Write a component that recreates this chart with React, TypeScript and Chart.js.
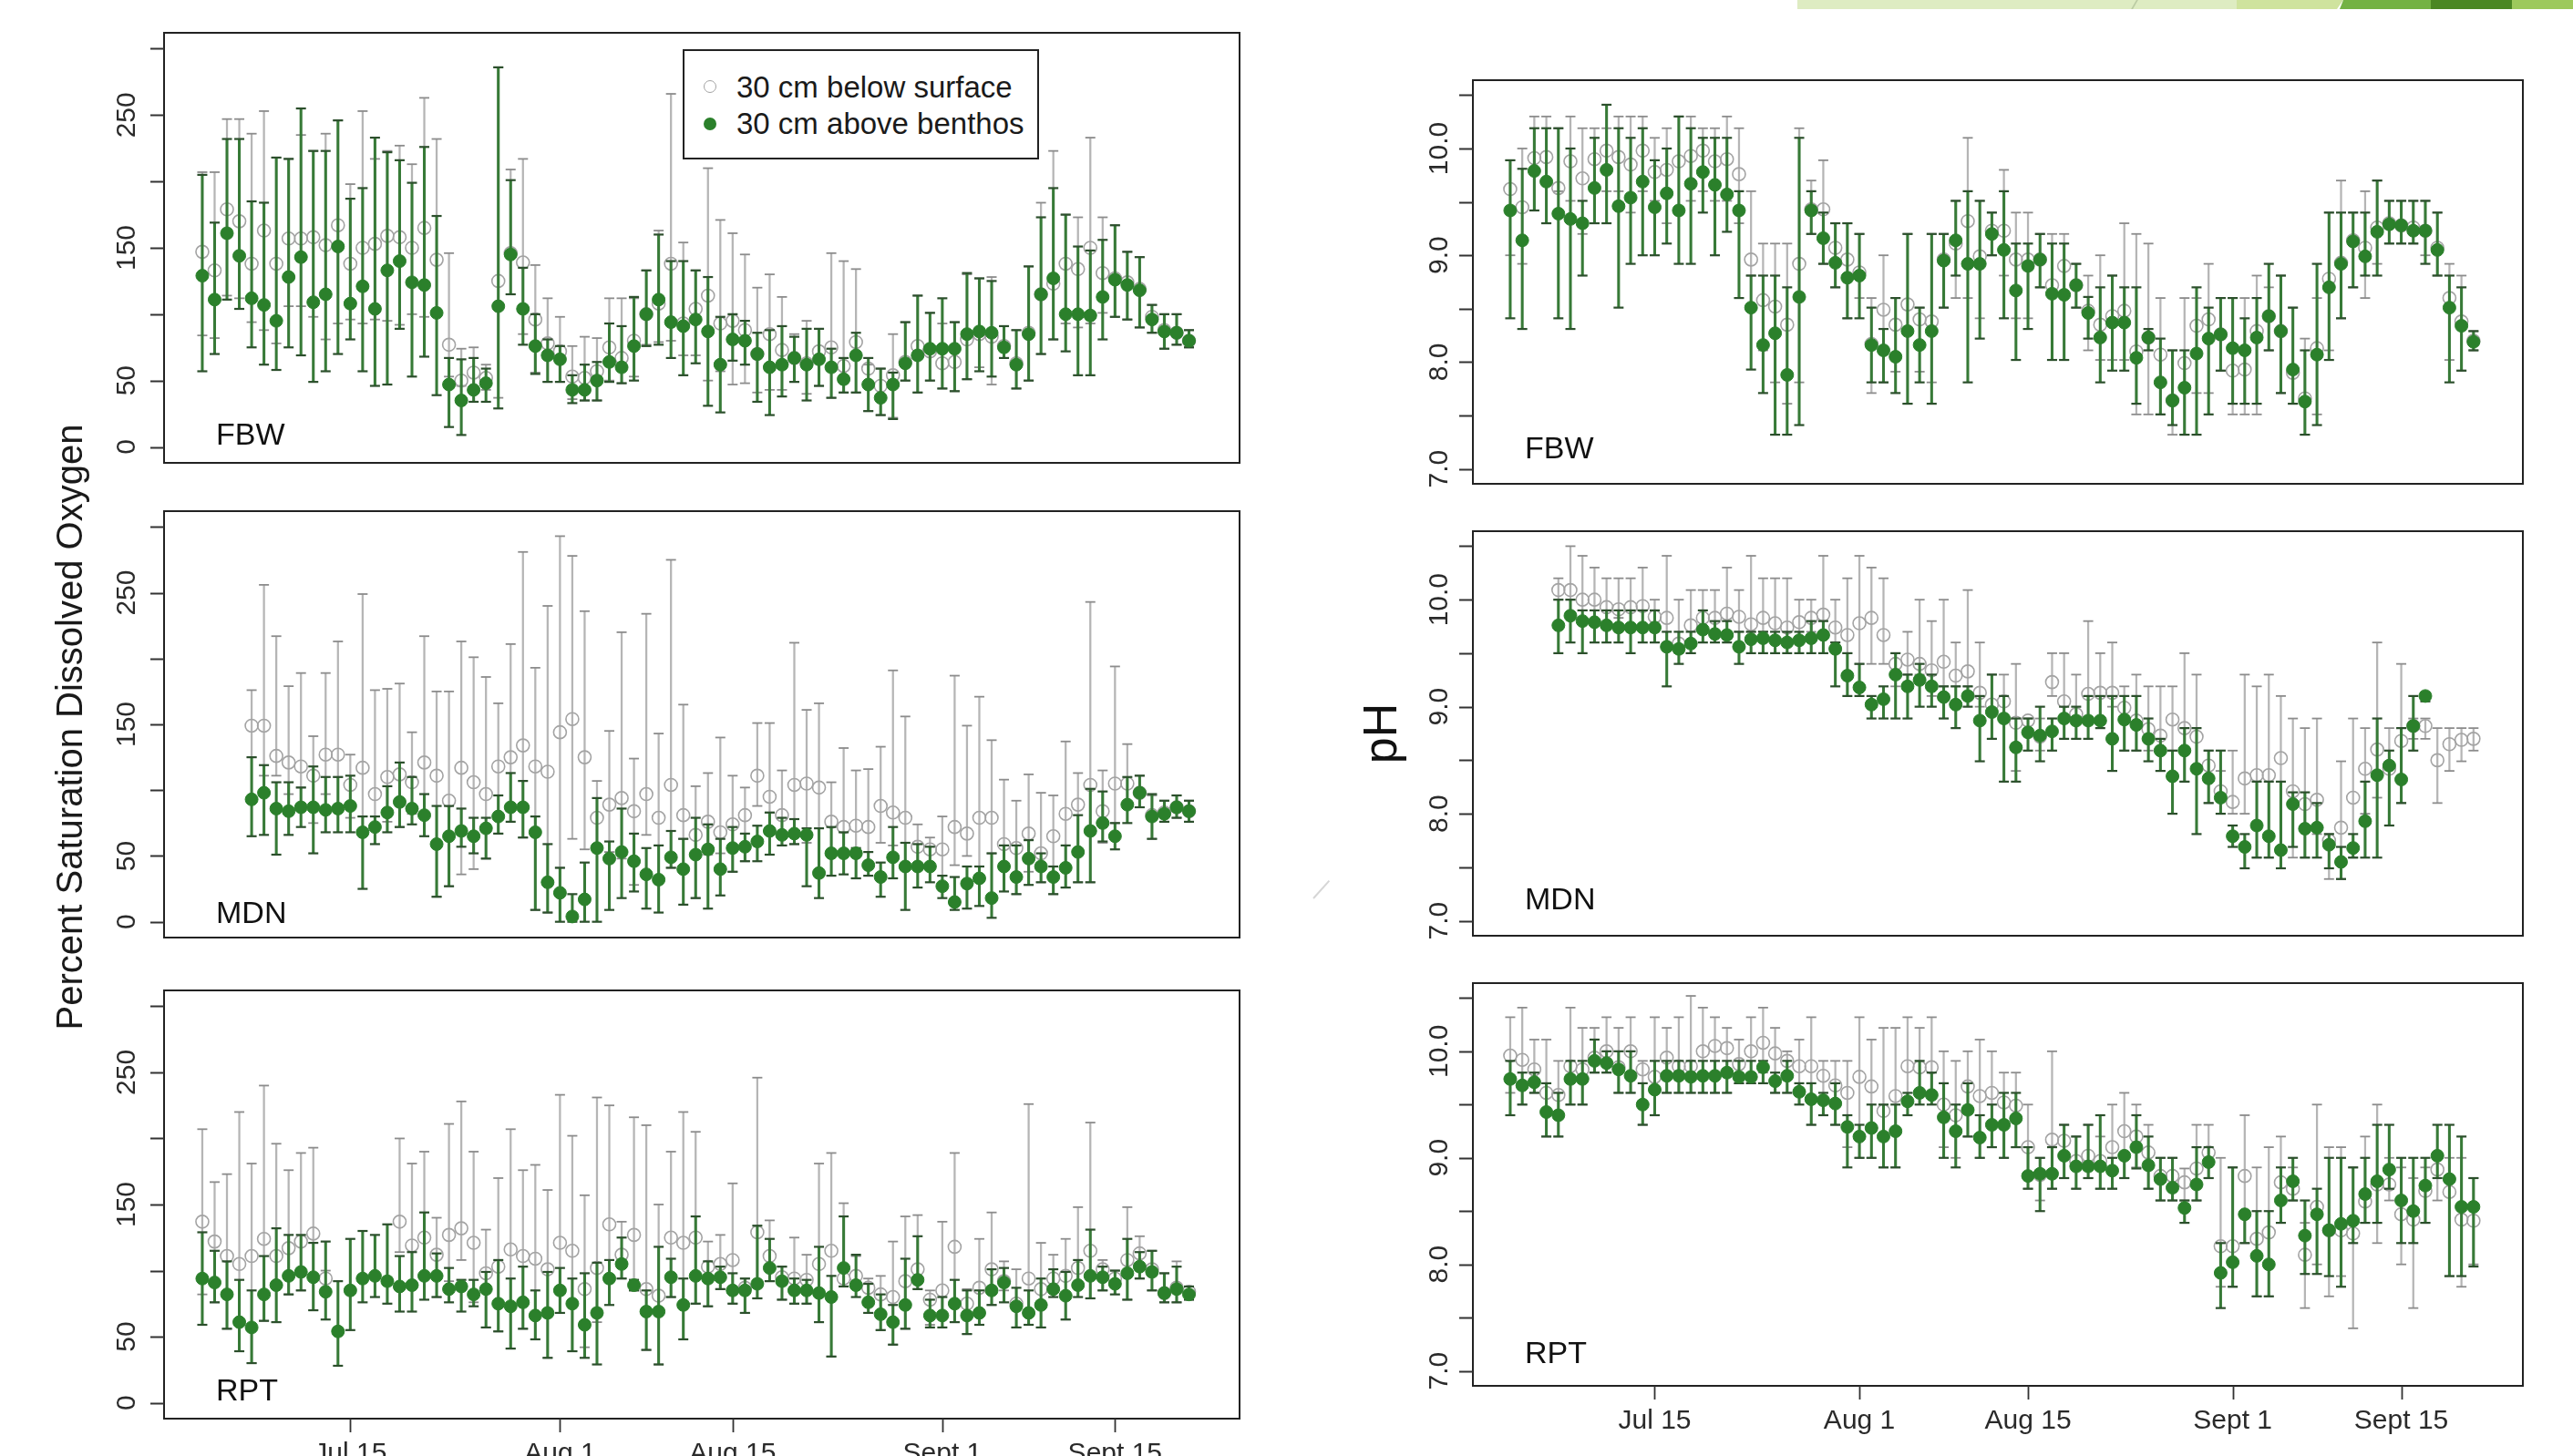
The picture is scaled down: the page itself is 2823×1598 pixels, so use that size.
import React, { useEffect, useRef } from 'react';
import { Chart, registerables } from 'chart.js';

Chart.register(...registerables);

// ---------- categories (days since Jul 1; Jul 15 = 14) ----------
const DAYS_JUL3 = [2,3,4,5,6,7,8,9,10,11,12,13,14,15,16,17,18,19,20,21,22,23,24,25,26,27,28,29,30,31,32,33,34,35,36,37,38,39,40,41,42,43,44,45,46,47,48,49,50,51,52,53,54,55,56,57,58,59,60,61,62,63,64,65,66,67,68,69,70,71,72,73,74,75,76,77,78,79,80,81,82];
const DAYS_JUL7 = [6,7,8,9,10,11,12,13,14,15,16,17,18,19,20,21,22,23,24,25,26,27,28,29,30,31,32,33,34,35,36,37,38,39,40,41,42,43,44,45,46,47,48,49,50,51,52,53,54,55,56,57,58,59,60,61,62,63,64,65,66,67,68,69,70,71,72,73,74,75,76,77,78,79,80,81,82];
const X_TICK_DAYS = [14, 31, 45, 62, 76];
const X_TICK_LABELS = ['Jul 15', 'Aug 1', 'Aug 15', 'Sept 1', 'Sept 15'];
const DO_TICKS = [0, 50, 100, 150, 200, 250, 300];
const DO_LABELS = [0, 50, 150, 250];
const PH_TICKS = [7, 7.5, 8, 8.5, 9, 9.5, 10, 10.5];
const PH_LABELS = [7, 8, 9, 10];

// ---------- FBW dissolved oxygen ----------
const FBW_DO_SURF = [147,133,179,170,138,163,138,157,157,158, 152,167,138,150,153,159,158,150,165,141, 77,50,56,52,125,146,139,96,78,72, 53,52,57,75,67,80,100,108,138,93, 104,114,93,95,88,70,85,73,67,63, 72,75,61,79,59,46,54,64,76,72, 63,64,81,85,83,76,63,86,115,123, 138,134,150,131,127,124,119,98,88,86, 80];
const FBW_DO_SURF_LO = [84,82,114,112,94,88,78,106,106,98, 81,93,96,93,96,95,92,100,98,100, 53,46,41,43,37,115,85,56,49,49, 36,35,35,50,48,53,77,79,80,69, 69,50,57,47,48,41,43,43,49,40, 46,37,41,41,27,24,22,50,41,50, 44,42,51,60,47,67,44,50,70,81, 93,90,93,101,98,96,90,86,74,77, 75];
const FBW_DO_SURF_HI = [207,207,247,247,236,253,218,217,235,223, 236,246,198,253,217,223,227,213,263,232, 146,74,75,62,286,209,217,137,112,98, 76,83,82,112,112,112,133,163,266,154, 133,210,171,161,145,120,130,113,85,95, 89,146,140,134,62,59,85,94,114,101, 93,94,130,127,128,91,88,136,184,223, 175,173,233,173,167,147,143,107,100,100, 88];
const FBW_DO_BENT = [129,111,161,144,112,107,95,128,143,109, 115,151,108,121,104,133,140,124,122,101, 47,35,43,48,106,145,104,76,69,66, 43,43,50,64,60,76,100,111,94,91, 96,87,62,81,80,70,60,62,67,62, 66,60,51,69,47,37,47,63,69,74, 74,74,85,87,86,75,62,85,115,127, 100,100,99,113,126,122,118,96,87,86, 80];
const FBW_DO_BENT_LO = [57,70,111,104,75,62,58,75,69,49, 57,70,81,57,46,47,89,53,68,39, 15,9,34,34,29,115,77,55,49,49, 33,35,35,49,48,50,76,77,67,54, 63,31,26,65,62,34,24,38,49,35, 46,37,41,41,27,24,21,50,41,50, 44,42,51,57,53,67,44,50,70,81, 72,54,54,81,98,96,90,86,74,77, 75];
const FBW_DO_BENT_HI = [205,169,232,232,185,184,218,217,255,223, 223,246,187,195,233,222,216,199,226,174, 67,66,67,59,286,201,135,100,81,76, 54,62,64,93,91,113,133,160,140,140, 133,128,98,100,95,86,88,91,83,89, 89,74,67,86,67,59,56,94,114,101, 112,94,131,127,125,91,88,136,173,195, 175,151,148,156,167,147,143,107,100,100, 88];

// ---------- MDN dissolved oxygen ----------
const MDN_DO_SURF = [149,149,126,121,118,111,127,127,104,117, 97,110,112,106,121,111,92,117,106,97, 118,125,134,118,114,144,154,125,79,89, 94,84,97,79,104,81,66,76,68,74, 81,111,95,81,104,105,102,76,72,73, 72,88,83,79,57,55,55,72,67,79, 79,59,56,67,52,65,82,89,104,84, 105,105,98,81,83,87,84];
const MDN_DO_SURF_LO = [125,111,111,97,102,75,97,110,79,80, 80,76,72,82,81,19,27,36,40,48, 67,84,64,9,7,41,63,55,55,53, 48,28,66,58,41,63,18,51,52,38, 46,88,83,58,59,60,37,52,52,33, 43,60,58,60,42,42,35,43,50,42, 52,40,21,38,30,21,26,30,30,60, 75,89,87,63,76,79,76];
const MDN_DO_SURF_HI = [176,256,217,179,189,141,189,213,127,249, 176,177,181,144,217,175,175,213,201,186, 166,211,281,193,240,293,278,236,107,145, 220,124,234,143,275,165,103,113,140,111, 102,151,151,115,212,161,166,106,132,115, 116,133,191,156,74,64,80,187,149,171, 138,108,92,112,98,96,137,113,243,115, 194,135,111,96,92,96,92];
const MDN_DO_BENT = [93,98,86,84,87,87,85,86,88,68, 72,83,91,86,81,59,65,69,65,71, 80,87,87,68,30,22,4,17,56,48, 53,46,36,32,49,40,51,55,40,56, 57,61,69,66,67,66,37,52,52,52, 43,34,49,42,42,42,27,15,29,33, 18,42,34,48,42,34,41,53,69,75, 65,89,98,80,82,87,84];
const MDN_DO_BENT_LO = [65,66,51,66,72,52,68,68,68,25, 59,68,72,74,65,19,27,57,52,48, 67,76,64,9,7,0,0,0,0,9, 18,23,10,7,41,13,18,10,20,38, 46,46,51,58,59,27,18,35,36,33, 35,19,33,9,26,30,18,9,10,12, 3,23,21,28,30,21,26,30,30,61, 55,75,87,63,76,79,76];
const MDN_DO_BENT_HI = [125,119,106,106,102,118,110,110,111,80, 80,103,121,110,97,88,88,86,79,79, 96,113,107,80,59,41,21,45,94,61, 86,67,56,58,69,63,79,74,63,72, 67,73,83,79,78,71,71,72,68,56, 53,45,72,60,59,57,35,34,42,42, 52,58,58,62,52,42,58,81,101,99, 75,110,111,97,92,96,92];

// ---------- RPT dissolved oxygen ----------
const RPT_DO_SURF = [137,122,111,105,111,124,111,117,122,128, 94,null,null,null,null,null,137,119,125,112, 127,132,121,98,103,116,111,109,101,121, 115,86,102,135,112,127,86,81,125,121, 125,103,105,108,87,129,111,95,94,93, 105,115,94,96,87,82,80,92,101,78, 85,118,75,87,101,92,75,94,86,94, 96,102,115,101,94,108,113,101,83,87, 84];
const RPT_DO_SURF_LO = [82,76,56,39,30,62,61,82,85,70, 85,null,null,null,null,null,114,89,96,80, 92,108,76,57,54,41,56,48,34,68, 39,42,61,94,94,85,40,29,80,74, 75,73,86,75,68,79,92,78,75,75, 61,35,88,89,68,55,44,56,86,59, 64,61,52,59,74,85,57,59,57,86, 63,89,79,85,90,78,94,85,76,76, 78];
const RPT_DO_SURF_HI = [207,167,173,220,181,240,196,176,189,193, 100,null,null,null,null,null,200,181,190,140, 211,228,190,131,170,207,176,180,161,233, 202,157,231,225,137,216,210,150,190,220, 205,122,127,166,94,246,138,103,125,112, 181,189,151,111,94,96,122,141,142,85, 137,189,86,124,144,107,101,226,121,112, 124,148,212,108,100,148,126,115,98,107, 88];
const RPT_DO_BENT = [94,91,82,61,57,82,89,96,99,95, 84,54,85,94,96,92,88,89,96,96, 86,88,82,86,75,73,76,66,68,85, 75,59,68,94,105,89,69,69,95,74, 96,94,95,85,85,90,102,92,85,85, 83,80,102,89,76,67,61,74,93,66, 66,75,66,68,85,91,73,68,74,86, 81,89,96,95,90,98,103,99,83,86, 82];
const RPT_DO_BENT_LO = [59,76,56,39,30,62,61,82,85,70, 63,28,55,76,80,75,69,69,78,80, 76,69,73,57,54,41,56,48,34,68, 39,34,29,74,94,85,40,29,80,48, 75,73,86,75,68,79,92,78,75,75, 61,35,88,80,68,55,44,56,86,57, 57,61,52,59,74,76,57,59,57,80, 63,80,79,85,82,78,94,85,76,76, 78];
const RPT_DO_BENT_HI = [129,115,107,93,85,111,132,127,127,121, 122,92,124,130,127,135,111,114,144,113, 102,93,93,99,108,94,103,85,99,102, 94,98,106,108,125,93,85,118,109,94, 141,107,103,98,94,134,124,103,94,93, 118,96,141,112,90,82,74,109,126,78, 80,93,85,85,101,102,87,85,94,101, 99,108,131,103,100,124,114,115,98,103, 88];

// ---------- FBW pH ----------
const FBW_PH_SURF = [9.62,9.45,9.91,9.92,9.63,9.88,9.72,9.90,9.98,9.92, 9.85,9.98,9.78,9.80,9.88,9.93,9.98,9.88,9.90,9.76, 8.96,8.58,8.52,8.35,8.92,9.43,9.43,9.07,8.96,8.84, 8.17,8.49,8.35,8.54,8.40,8.38,8.96,9.11,9.32,8.99, 9.23,9.23,8.96,8.96,8.96,8.72,8.90,8.72,8.48,8.35, 8.43,8.48,8.10,8.23,8.07,7.64,7.99,8.34,8.40,8.26, 7.92,7.93,8.29,8.43,8.29,7.90,7.66,8.13,8.78,8.93, 9.14,9.07,9.26,9.30,9.28,9.26,9.23,9.07,8.60,8.38, 8.20];
const FBW_PH_SURF_LO = [9.00,8.92,9.42,9.30,9.60,9.51,9.20,9.30,9.60,9.60, 9.40,9.60,9.51,9.30,9.42,9.51,9.60,9.51,9.51,9.30, 8.81,8.11,7.81,7.61,7.81,9.20,8.92,8.70,8.41,8.60, 7.71,7.81,7.91,7.61,7.91,7.81,8.51,8.60,8.60,8.41, 9.00,8.81,8.41,8.41,8.70,8.02,8.02,8.51,8.11,8.02, 8.02,8.02,7.51,7.51,7.51,7.32,7.32,7.71,7.71,7.92, 7.51,7.51,7.51,8.11,7.71,7.61,7.32,7.51,8.11,8.41, 8.70,8.60,8.92,9.11,9.11,9.11,9.00,8.81,8.02,7.92, 8.11];
const FBW_PH_SURF_HI = [9.89,10.00,10.30,10.30,10.19,10.30,10.19,10.19,10.19,10.30, 10.30,10.30,10.10,10.19,10.30,10.30,10.19,10.19,10.30,10.19, 9.60,9.11,9.11,9.11,10.19,9.70,9.89,9.30,9.30,9.20, 8.60,9.00,8.60,9.20,8.51,9.20,9.20,9.51,10.10,9.51, 9.40,9.80,9.40,9.40,9.20,9.20,9.20,8.92,8.81,9.00, 8.81,9.30,9.20,9.11,8.60,8.11,8.60,8.60,8.92,8.60, 8.60,8.60,8.81,8.70,8.81,8.51,8.22,8.60,9.40,9.70, 9.40,9.60,9.70,9.51,9.51,9.51,9.51,9.40,8.92,8.81, 8.29];
const FBW_PH_BENT = [9.42,9.14,9.79,9.69,9.39,9.34,9.30,9.63,9.80,9.46, 9.54,9.69,9.45,9.58,9.42,9.67,9.78,9.66,9.57,9.42, 8.51,8.16,8.27,7.88,8.61,9.42,9.16,8.93,8.79,8.81, 8.16,8.11,8.05,8.29,8.16,8.29,8.95,9.14,8.92,8.92, 9.20,9.05,8.67,8.90,8.96,8.64,8.63,8.72,8.46,8.23, 8.37,8.37,8.04,8.23,7.81,7.64,7.76,8.08,8.22,8.26, 8.13,8.11,8.23,8.43,8.29,7.93,7.63,8.07,8.70,8.92, 9.13,8.99,9.22,9.29,9.28,9.23,9.23,9.05,8.51,8.34, 8.19];
const FBW_PH_BENT_LO = [8.41,8.31,9.42,9.30,8.41,8.31,8.81,9.30,9.30,8.51, 8.92,9.00,9.00,9.11,8.92,8.92,9.40,9.00,9.22,8.60, 7.93,7.71,7.32,7.32,7.41,9.20,8.92,8.70,8.41,8.41, 7.81,7.81,7.71,7.61,7.81,7.61,8.51,8.81,7.81,8.22, 9.00,8.41,8.02,8.31,8.70,8.02,8.02,8.51,8.22,7.81, 7.92,7.92,7.61,8.11,7.51,7.41,7.32,7.32,7.51,7.92, 7.61,7.61,7.61,8.11,7.71,7.61,7.32,7.41,8.02,8.41, 8.70,8.81,8.81,9.11,9.11,9.11,8.92,8.81,7.81,7.92, 8.11];
const FBW_PH_BENT_HI = [9.89,9.81,10.19,10.19,10.19,10.00,9.51,10.10,10.41,10.19, 10.10,10.19,9.89,10.00,10.30,10.19,10.10,10.10,10.10,9.60, 8.81,8.81,8.81,8.70,10.10,9.60,9.40,9.30,9.30,9.20, 8.51,8.31,8.60,9.20,8.51,9.20,9.20,9.51,9.60,9.51, 9.40,9.60,9.11,9.11,9.20,9.11,9.11,8.92,8.61,8.70, 8.81,8.70,8.70,8.31,8.22,8.11,8.11,8.70,8.51,8.60, 8.60,8.41,8.60,8.92,8.81,8.51,8.11,8.92,9.40,9.40, 9.40,9.40,9.70,9.51,9.51,9.51,9.51,9.40,8.81,8.70, 8.29];

// ---------- MDN pH ----------
const MDN_PH_SURF = [10.09,10.09,10.00,10.00,9.93,9.91,9.93,9.94,9.84,9.83, 9.59,9.76,9.83,9.83,9.87,9.84,9.77,9.83,9.78,9.74, 9.79,9.83,9.86,9.74,9.67,9.78,9.83,9.67,9.40,9.44, 9.40,9.34,9.42,9.29,9.33,9.13,9.02,9.05,8.85,8.87, 8.72,9.23,9.05,8.93,9.12,9.13,9.13,8.99,8.87,8.79, 8.73,8.88,8.80,8.72,8.45,8.21,8.11,8.33,8.36,8.36, 8.52,8.21,8.09,8.13,7.75,7.87,8.15,8.42,8.60,8.42, 8.68,8.82,8.82,8.50,8.65,8.69,8.70];
const MDN_PH_SURF_LO = [10.00,10.00,9.90,9.90,9.90,9.83,9.90,9.90,9.70,9.60, 9.50,9.50,9.70,9.70,9.70,9.70,9.70,9.70,9.60,9.60, 9.60,9.70,9.70,9.60,9.50,9.40,9.40,9.40,9.19,9.30, 9.30,9.10,9.19,9.19,9.19,9.00,8.70,8.89,8.40,8.76, 8.59,9.10,8.89,8.70,8.89,8.89,9.00,8.59,8.59,8.59, 8.40,8.59,8.30,8.40,8.10,8.00,8.00,8.00,7.59,7.59, 7.69,7.59,7.59,7.81,7.39,7.39,7.59,8.00,8.15,7.89, 8.10,8.70,8.70,8.10,8.40,8.49,8.59];
const MDN_PH_SURF_HI = [10.20,10.50,10.41,10.30,10.20,10.20,10.20,10.30,10.00,10.41, 10.00,10.09,10.09,10.09,10.30,10.09,10.41,10.20,10.20,10.20, 10.00,10.00,10.41,10.00,10.20,10.41,10.30,10.20,9.50,9.70, 10.00,9.80,10.00,9.60,10.09,9.60,9.30,9.30,9.40,8.89, 8.89,9.50,9.50,9.30,9.80,9.50,9.60,9.19,9.30,9.19, 9.19,9.19,9.50,9.30,8.59,8.40,8.59,9.30,9.19,9.30, 9.10,8.89,8.80,8.89,7.81,8.49,8.89,8.80,9.60,8.80, 9.40,8.89,8.89,8.80,8.80,8.80,8.80];
const MDN_PH_BENT = [9.76,9.85,9.80,9.79,9.76,9.74,9.74,9.74,9.74,9.56, 9.54,9.59,9.72,9.68,9.67,9.56,9.63,9.64,9.62,9.60, 9.62,9.64,9.67,9.54,9.29,9.18,9.02,9.07,9.30,9.19, 9.25,9.19,9.09,9.02,9.10,8.87,8.95,8.89,8.62,8.76, 8.73,8.77,8.89,8.87,8.87,8.87,8.70,8.88,8.83,8.70, 8.59,8.35,8.59,8.42,8.33,8.15,7.79,7.69,7.89,7.79, 7.66,8.09,7.86,7.87,7.71,7.55,7.68,7.93,8.36,8.45, 8.32,8.82,9.10,null,null,null,null];
const MDN_PH_BENT_LO = [9.50,9.60,9.50,9.60,9.60,9.60,9.50,9.60,9.60,9.19, 9.40,9.50,9.60,9.60,9.60,9.40,9.50,9.50,9.50,9.50, 9.50,9.50,9.50,9.19,9.10,9.10,8.89,8.89,8.89,8.89, 9.00,9.00,8.89,8.80,9.00,8.49,8.70,8.30,8.30,8.59, 8.49,8.59,8.70,8.70,8.70,8.80,8.40,8.59,8.59,8.49, 8.40,8.00,8.30,7.81,8.10,8.00,7.69,7.49,7.59,7.59, 7.49,7.69,7.59,7.59,7.49,7.39,7.59,7.59,7.59,7.89, 8.10,8.59,9.05,null,null,null,null];
const MDN_PH_BENT_HI = [10.00,10.00,9.90,9.90,9.90,9.90,9.90,9.90,9.90,9.70, 9.70,9.70,9.90,9.80,9.80,9.70,9.70,9.70,9.70,9.70, 9.70,9.80,9.80,9.60,9.50,9.40,9.10,9.19,9.50,9.30, 9.40,9.30,9.19,9.19,9.19,9.10,9.30,9.10,8.89,8.89, 9.00,8.89,9.00,9.00,9.10,9.10,9.10,9.10,9.10,8.89, 8.70,8.59,8.80,8.80,8.59,8.59,7.89,7.81,8.30,8.30, 8.30,8.20,8.20,8.10,7.81,7.69,7.81,8.30,8.89,8.59, 8.80,9.10,9.13,null,null,null,null];

// ---------- RPT pH ----------
const RPT_PH_SURF = [9.96,9.92,9.83,9.61,9.59,9.86,9.83,9.94,10.00,9.85, 10.00,9.83,9.76,9.94,9.86,9.86,10.00,10.05,10.03,9.88, 10.00,10.08,9.98,9.91,9.86,9.86,9.77,9.68,9.61,9.76, 9.67,9.44,9.58,9.86,9.85,9.85,9.50,9.40,9.67,9.58, 9.61,9.52,9.49,9.10,8.84,9.17,9.16,8.97,9.02,8.97, 9.10,9.25,9.20,9.05,8.83,8.83,8.77,8.90,9.05,8.17, 8.17,8.83,8.24,8.30,8.77,8.71,8.09,8.54,8.32,8.32, 8.29,8.59,8.75,8.75,8.47,8.42,8.69,8.89,8.68,8.42, 8.41];
const RPT_PH_SURF_LO = [9.61,9.50,9.61,9.20,9.20,9.50,9.50,9.80,9.80,9.61, 9.61,9.31,9.40,9.61,9.61,9.61,9.61,9.61,9.61,9.70, 9.70,9.80,9.61,9.61,9.61,9.31,9.40,9.31,9.10,9.00, 9.00,8.91,8.91,9.50,9.61,9.61,9.10,9.00,9.20,9.00, 9.10,9.00,9.10,8.71,8.60,8.71,8.81,8.71,8.81,8.71, 8.71,8.81,8.91,8.71,8.60,8.60,8.60,8.60,8.81,7.79, 7.79,8.20,7.70,7.70,8.39,8.60,7.59,8.00,7.70,7.89, 7.40,8.39,8.20,8.60,8.00,7.59,8.39,8.60,7.89,7.79, 8.00];
const RPT_PH_SURF_HI = [10.32,10.41,10.11,10.11,9.91,10.41,10.22,10.22,10.32,10.22, 10.32,9.91,10.32,10.22,10.32,10.52,10.41,10.32,10.22,10.11, 10.32,10.41,10.22,10.00,10.11,10.32,9.91,9.91,9.91,10.32, 10.11,10.22,10.22,10.32,10.22,10.32,10.00,9.91,10.00,10.11, 10.00,9.80,9.80,9.50,9.00,10.00,9.31,9.20,9.31,9.20, 9.50,9.61,9.50,9.31,9.00,9.00,8.90,9.31,9.31,9.00, 8.91,9.40,8.91,9.10,9.20,8.91,8.39,9.50,9.10,9.10, 8.91,9.20,9.50,9.00,8.91,8.81,8.91,9.00,9.00,9.00, 8.81];
const RPT_PH_BENT = [9.74,9.68,9.71,9.43,9.40,9.74,9.74,9.91,9.89,9.83, 9.77,9.50,9.64,9.77,9.77,9.76,9.77,9.77,9.80,9.76, 9.76,9.85,9.72,9.77,9.62,9.55,9.54,9.51,9.29,9.20, 9.28,9.20,9.25,9.53,9.61,9.59,9.38,9.25,9.45,9.19, 9.31,9.31,9.37,8.83,8.85,8.85,9.02,8.92,8.92,8.92, 8.88,9.02,9.10,8.93,8.80,8.72,8.53,8.75,8.96,7.92, 8.02,8.47,8.08,8.00,8.60,8.78,8.27,8.47,8.32,8.38, 8.41,8.66,8.78,8.89,8.60,8.50,8.74,9.02,8.80,8.54, 8.54];
const RPT_PH_BENT_LO = [9.40,9.50,9.61,9.20,9.20,9.50,9.50,9.80,9.80,9.61, 9.61,9.31,9.40,9.61,9.61,9.61,9.61,9.61,9.61,9.70, 9.70,9.70,9.61,9.61,9.50,9.31,9.40,9.31,8.91,9.00, 9.00,8.91,8.91,9.40,9.50,9.50,9.00,8.91,9.20,9.00, 9.10,9.00,9.10,8.71,8.50,8.71,8.81,8.71,8.81,8.71, 8.71,8.81,8.90,8.71,8.60,8.60,8.39,8.60,8.81,7.59, 7.79,8.20,7.70,7.70,8.39,8.60,7.91,7.91,7.89,7.79, 8.20,8.39,8.39,8.71,8.20,8.20,8.39,8.81,7.89,7.89, 7.98];
const RPT_PH_BENT_HI = [9.91,9.80,9.80,9.70,9.61,9.91,9.91,10.11,10.00,10.00, 10.00,9.70,9.91,9.91,9.91,9.91,9.91,9.91,9.91,9.91, 9.91,9.91,9.80,9.91,9.70,9.70,9.61,9.70,9.40,9.31, 9.50,9.50,9.50,9.61,9.91,9.80,9.70,9.50,9.70,9.40, 9.50,9.61,9.61,9.10,9.00,9.10,9.31,9.20,9.31,9.40, 9.00,9.00,9.40,9.20,9.00,9.00,8.60,9.10,9.10,8.20, 8.91,8.50,8.50,8.50,8.91,9.00,8.60,8.71,9.00,9.00, 8.91,9.00,9.31,9.31,9.00,9.00,9.00,9.31,9.31,9.20, 8.81];

// ---------- styles ----------
const GREEN_PT = '#2b802b';
const GREEN_LINE = '#377a37';
const GREEN_CAP = '#2c4f2c';
const GREY_PT = '#a3a3a3';
const GREY_LINE = '#b5b5b5';
const GREY_CAP = '#8c8c8c';
const FONT = '"Liberation Sans", Arial, Helvetica, sans-serif';
const PAD_L = 110, PAD_T = 12, PAD_R = 12;

type Num = number | null;

function pts(days: number[], ys: Num[]) {
  const out: { x: number; y: number }[] = [];
  days.forEach((d, i) => { const v = ys[i]; if (v != null) out.push({ x: d, y: v }); });
  return out;
}
function ranges(days: number[], lo: Num[], hi: Num[]) {
  const out: { x: number; y: [number, number] }[] = [];
  days.forEach((d, i) => { const a = lo[i], b = hi[i]; if (a != null && b != null) out.push({ x: d, y: [a, b] }); });
  return out;
}

const rAxes = {
  id: 'rAxes',
  afterDraw(chart: any, _args: any, opts: any) {
    const { ctx, chartArea: a } = chart;
    const ys = chart.scales.y, xs = chart.scales.x;
    ctx.save();
    ctx.strokeStyle = '#222';
    ctx.lineWidth = 2;
    ctx.strokeRect(a.left, a.top, a.right - a.left, a.bottom - a.top);
    ctx.lineWidth = 1.8;
    ctx.strokeStyle = '#333';
    ctx.beginPath();
    opts.yTicks.forEach((v: number) => {
      const py = Math.round(ys.getPixelForValue(v)) + 0.5;
      ctx.moveTo(a.left - 15, py); ctx.lineTo(a.left, py);
    });
    ctx.stroke();
    ctx.fillStyle = '#2a2a2a';
    ctx.font = '30px ' + FONT;
    ctx.textAlign = 'center';
    ctx.textBaseline = 'alphabetic';
    opts.yLabels.forEach((v: number) => {
      const py = ys.getPixelForValue(v);
      ctx.save();
      ctx.translate(a.left - opts.yLabelGap, py);
      ctx.rotate(-Math.PI / 2);
      ctx.fillText(v.toFixed(opts.digits), 0, 0);
      ctx.restore();
    });
    if (opts.xAxis) {
      ctx.beginPath();
      X_TICK_DAYS.forEach((d) => {
        const px = Math.round(xs.getPixelForValue(d)) + 0.5;
        ctx.moveTo(px, a.bottom); ctx.lineTo(px, a.bottom + 15);
      });
      ctx.stroke();
      X_TICK_DAYS.forEach((d, i) => {
        ctx.fillText(X_TICK_LABELS[i], xs.getPixelForValue(d), a.bottom + 47);
      });
    }
    ctx.restore();
  },
};

type PanelCfg = {
  box: [number, number, number, number];
  yMin: number; yMax: number;
  yTicks: number[]; yLabels: number[]; digits: number; yLabelGap: number;
  xAxis: boolean;
  days: number[];
  sM: Num[]; sL: Num[]; sH: Num[];
  bM: Num[]; bL: Num[]; bH: Num[];
};

function Panel({ cfg }: { cfg: PanelCfg }) {
  const ref = useRef<HTMLCanvasElement>(null);
  const [l, t, r, b] = cfg.box;
  const padB = cfg.xAxis ? 90 : 12;
  const W = r - l + PAD_L + PAD_R;
  const H = b - t + PAD_T + padB;
  useEffect(() => {
    const canvas = ref.current;
    if (!canvas) return;
    const capPts = (lo: Num[], hi: Num[]) => pts(cfg.days, lo).concat(pts(cfg.days, hi));
    const chart = new Chart(canvas, {
      type: 'scatter',
      data: {
        datasets: [
          {
            type: 'scatter', label: '30 cm above benthos', data: pts(cfg.days, cfg.bM), order: 1,
            pointStyle: 'circle', pointRadius: 7, pointHoverRadius: 7,
            pointBackgroundColor: GREEN_PT, pointBorderColor: GREEN_PT, pointBorderWidth: 1,
          },
          {
            type: 'scatter', label: 'benthos caps', data: capPts(cfg.bL, cfg.bH), order: 2,
            pointStyle: 'line', pointRadius: 5.5, pointHoverRadius: 5.5,
            pointBorderColor: GREEN_CAP, pointBorderWidth: 2.2,
          },
          {
            type: 'bar', label: 'benthos range', data: ranges(cfg.days, cfg.bL, cfg.bH), order: 3,
            backgroundColor: GREEN_LINE, borderWidth: 0, barThickness: 2.4, grouped: false,
          },
          {
            type: 'scatter', label: '30 cm below surface', data: pts(cfg.days, cfg.sM), order: 4,
            pointStyle: 'circle', pointRadius: 7, pointHoverRadius: 7,
            pointBackgroundColor: 'rgba(255,255,255,0)', pointBorderColor: GREY_PT, pointBorderWidth: 1.6,
          },
          {
            type: 'scatter', label: 'surface caps', data: capPts(cfg.sL, cfg.sH), order: 5,
            pointStyle: 'line', pointRadius: 5.5, pointHoverRadius: 5.5,
            pointBorderColor: GREY_CAP, pointBorderWidth: 1.8,
          },
          {
            type: 'bar', label: 'surface range', data: ranges(cfg.days, cfg.sL, cfg.sH), order: 6,
            backgroundColor: GREY_LINE, borderWidth: 0, barThickness: 1.6, grouped: false,
          },
        ] as any,
      },
      options: {
        responsive: false,
        animation: false,
        devicePixelRatio: 1,
        events: [],
        layout: { padding: { left: PAD_L, top: PAD_T, right: PAD_R, bottom: padB } },
        scales: {
          x: { type: 'linear', min: -1.1, max: 86.1, offset: false, bounds: 'ticks', display: false, grid: { offset: false } },
          y: { type: 'linear', min: cfg.yMin, max: cfg.yMax, beginAtZero: false, display: false },
        },
        plugins: {
          legend: { display: false },
          tooltip: { enabled: false },
          rAxes: { yTicks: cfg.yTicks, yLabels: cfg.yLabels, digits: cfg.digits, yLabelGap: cfg.yLabelGap, xAxis: cfg.xAxis },
        } as any,
      } as any,
      plugins: [rAxes as any],
    });
    return () => chart.destroy();
  }, []);
  return (
    <canvas
      ref={ref}
      width={W}
      height={H}
      style={{ position: 'absolute', left: l - PAD_L, top: t - PAD_T, width: W, height: H }}
    />
  );
}

const DO_RANGE = { yMin: -12, yMax: 312, yTicks: DO_TICKS, yLabels: DO_LABELS, digits: 0, yLabelGap: 32 };
const PH_RANGE = { yMin: 6.86, yMax: 10.64, yTicks: PH_TICKS, yLabels: PH_LABELS, digits: 1, yLabelGap: 28 };

const PANELS: { cfg: PanelCfg; name: string; lx: number; ly: number }[] = [
  { name: 'FBW', lx: 237, ly: 459, cfg: { box: [180, 36, 1360, 508], ...DO_RANGE, xAxis: false, days: DAYS_JUL3, sM: FBW_DO_SURF, sL: FBW_DO_SURF_LO, sH: FBW_DO_SURF_HI, bM: FBW_DO_BENT, bL: FBW_DO_BENT_LO, bH: FBW_DO_BENT_HI } },
  { name: 'MDN', lx: 237, ly: 984, cfg: { box: [180, 561, 1360, 1029], ...DO_RANGE, xAxis: false, days: DAYS_JUL7, sM: MDN_DO_SURF, sL: MDN_DO_SURF_LO, sH: MDN_DO_SURF_HI, bM: MDN_DO_BENT, bL: MDN_DO_BENT_LO, bH: MDN_DO_BENT_HI } },
  { name: 'RPT', lx: 237, ly: 1508, cfg: { box: [180, 1087, 1360, 1557], ...DO_RANGE, xAxis: true, days: DAYS_JUL3, sM: RPT_DO_SURF, sL: RPT_DO_SURF_LO, sH: RPT_DO_SURF_HI, bM: RPT_DO_BENT, bL: RPT_DO_BENT_LO, bH: RPT_DO_BENT_HI } },
  { name: 'FBW', lx: 1673, ly: 474, cfg: { box: [1616, 88, 2768, 531], ...PH_RANGE, xAxis: false, days: DAYS_JUL3, sM: FBW_PH_SURF, sL: FBW_PH_SURF_LO, sH: FBW_PH_SURF_HI, bM: FBW_PH_BENT, bL: FBW_PH_BENT_LO, bH: FBW_PH_BENT_HI } },
  { name: 'MDN', lx: 1673, ly: 969, cfg: { box: [1616, 583, 2768, 1027], ...PH_RANGE, xAxis: false, days: DAYS_JUL7, sM: MDN_PH_SURF, sL: MDN_PH_SURF_LO, sH: MDN_PH_SURF_HI, bM: MDN_PH_BENT, bL: MDN_PH_BENT_LO, bH: MDN_PH_BENT_HI } },
  { name: 'RPT', lx: 1673, ly: 1467, cfg: { box: [1616, 1079, 2768, 1521], ...PH_RANGE, xAxis: true, days: DAYS_JUL3, sM: RPT_PH_SURF, sL: RPT_PH_SURF_LO, sH: RPT_PH_SURF_HI, bM: RPT_PH_BENT, bL: RPT_PH_BENT_LO, bH: RPT_PH_BENT_HI } },
];

const abs = (o: React.CSSProperties): React.CSSProperties => ({ position: 'absolute', ...o });

export default function App() {
  return (
    <div style={{ position: 'absolute', left: 0, top: 0, width: 2823, height: 1598, overflow: 'hidden', background: '#fff', fontFamily: FONT }}>
      {/* slide decoration band */}
      <div style={abs({ left: 1972, top: 0, width: 482, height: 10, background: '#deecc2' })} />
      <div style={abs({ left: 2341, top: 0, width: 2, height: 10, background: '#bccca4', transform: 'skewX(-30deg)' })} />
      <div style={abs({ left: 2454, top: 0, width: 117, height: 10, background: '#cfe39e', clipPath: 'polygon(0 0, 100% 0, 94% 100%, 0 100%)' })} />
      <div style={abs({ left: 2567, top: 0, width: 101, height: 10, background: '#74b243', clipPath: 'polygon(4% 0, 100% 0, 100% 100%, 0 100%)' })} />
      <div style={abs({ left: 2667, top: 0, width: 89, height: 10, background: '#4b8723' })} />
      <div style={abs({ left: 2756, top: 0, width: 67, height: 10, background: '#9dc95c' })} />
      <div style={abs({ left: 1441, top: 985, width: 26, height: 2, background: '#d6d6d6', transformOrigin: '0 50%', transform: 'rotate(-48deg)' })} />

      {PANELS.map((p, i) => (
        <Panel key={i} cfg={p.cfg} />
      ))}
      {PANELS.map((p, i) => (
        <div key={'n' + i} style={abs({ left: p.lx, top: p.ly, fontSize: 34, lineHeight: '34px', color: '#111', whiteSpace: 'nowrap' })}>{p.name}</div>
      ))}

      {/* legend */}
      <div style={abs({ left: 749, top: 54, width: 391, height: 121, border: '2px solid #222', boxSizing: 'border-box', background: '#fff' })}>
        <div style={abs({ left: 21, top: 32, width: 14, height: 14, borderRadius: '50%', border: '1.6px solid ' + GREY_PT, boxSizing: 'border-box' })} />
        <div style={abs({ left: 21, top: 73, width: 14, height: 14, borderRadius: '50%', background: GREEN_PT })} />
        <div style={abs({ left: 57, top: 23, fontSize: 33, lineHeight: '33px', color: '#1a1a1a', whiteSpace: 'nowrap' })}>30 cm below surface</div>
        <div style={abs({ left: 57, top: 63, fontSize: 33, lineHeight: '33px', color: '#1a1a1a', whiteSpace: 'nowrap' })}>30 cm above benthos</div>
      </div>

      {/* axis titles */}
      <div style={abs({ left: 76 - 450, top: 798 - 20, width: 900, height: 40, lineHeight: '40px', fontSize: 40, textAlign: 'center', color: '#1a1a1a', transform: 'rotate(-90deg)', whiteSpace: 'nowrap' })}>
        Percent Saturation Dissolved Oxygen
      </div>
      <div style={abs({ left: 1514 - 100, top: 805 - 26, width: 200, height: 52, lineHeight: '52px', fontSize: 52, textAlign: 'center', color: '#111', transform: 'rotate(-90deg)', whiteSpace: 'nowrap' })}>
        pH
      </div>
    </div>
  );
}
